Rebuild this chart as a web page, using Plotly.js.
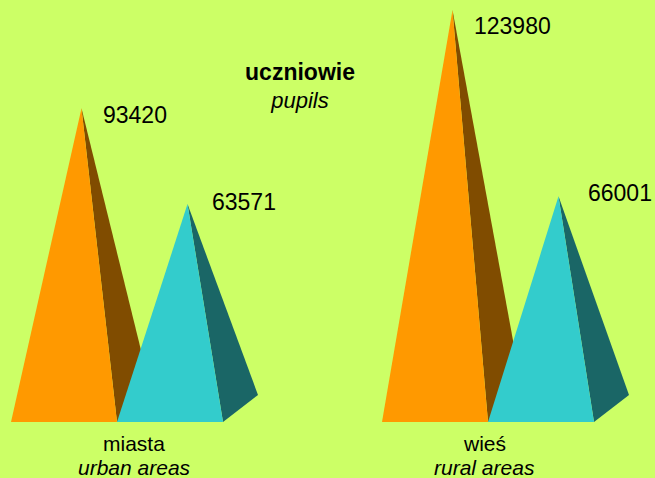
<!DOCTYPE html>
<html>
<head>
<meta charset="utf-8">
<script src="https://cdn.plot.ly/plotly-3.0.1.min.js"></script>
<style>html,body{margin:0;padding:0;background:#ccff66;}#chart{width:655px;height:478px;}</style>
</head>
<body>
<div id="chart"></div>
<script>
// ---- data ----
const categoriesPl = ['miasta', 'wieś'];
const categoriesEn = ['urban areas', 'rural areas'];
const seriesOrange = [93420, 123980];
const seriesCyan = [63571, 66001];
const titlePl = 'uczniowie';
const titleEn = 'pupils';

// ---- styling / geometry constants ----
const FONT = 'Liberation Sans, Arial, Helvetica, sans-serif';
const BG = '#ccff66';
const K = 0.003215;            // pixels per pupil
const PLOT_H = 422;            // plot height in px (base line)
const FACE_W = 106;            // front face width (x units = px)
const DX = 35;                 // depth offset x
const DY = 27 / K;             // depth offset y (in value units)
const groupStart = [11, 382];
const catLabelX = [134, 484];
const colors = [
  {front: '#ff9900', side: '#804c00'},
  {front: '#33cccc', side: '#1a6666'}
];
// label offsets in px relative to apex [xshift, yshift down]
const labelOff = [[[19, 7], [22, -2]], [[19, 16], [27, -3]]];

const traces = [];
const annotations = [];
const seriesList = [seriesOrange, seriesCyan];

for (let g = 0; g < categoriesPl.length; g++) {
  for (let s = 0; s < seriesList.length; s++) {
    const v = seriesList[s][g];
    const x0 = groupStart[g] + s * FACE_W;
    const ax = x0 + FACE_W / 2 + DX / 2;
    const ay = DY / 2 + v;
    traces.push({
      type: 'scatter', mode: 'lines', fill: 'toself',
      x: [x0 + FACE_W, x0 + FACE_W + DX, ax, x0 + FACE_W],
      y: [0, DY, ay, 0],
      fillcolor: colors[s].side, line: {width: 0, color: colors[s].side},
      hoverinfo: 'skip'
    });
    traces.push({
      type: 'scatter', mode: 'lines', fill: 'toself',
      x: [x0, x0 + FACE_W, ax, x0],
      y: [0, 0, ay, 0],
      fillcolor: colors[s].front, line: {width: 0, color: colors[s].front},
      hoverinfo: 'skip'
    });
    annotations.push({
      xref: 'x', yref: 'y', x: ax, y: ay,
      text: String(v), showarrow: false,
      xanchor: 'left', yanchor: 'middle',
      xshift: labelOff[g][s][0], yshift: -labelOff[g][s][1],
      font: {family: FONT, size: 23, color: '#000000'}
    });
  }
  annotations.push({
    xref: 'x', yref: 'y', x: catLabelX[g], y: 0,
    text: categoriesPl[g], showarrow: false,
    xanchor: 'center', yanchor: 'middle', yshift: -21,
    font: {family: FONT, size: 21, color: '#000000'}
  });
  annotations.push({
    xref: 'x', yref: 'y', x: catLabelX[g], y: 0,
    text: '<i>' + categoriesEn[g] + '</i>', showarrow: false,
    xanchor: 'center', yanchor: 'middle', yshift: -45,
    font: {family: FONT, size: 21, color: '#000000'}
  });
}

const layout = {
  width: 655, height: 478,
  paper_bgcolor: BG, plot_bgcolor: BG,
  margin: {l: 0, r: 0, t: 0, b: 478 - PLOT_H, pad: 0},
  showlegend: false,
  title: {
    text: '<b><span style="font-size:23px">' + titlePl + '</span></b><br><i>' + titleEn + '</i>',
    font: {family: FONT, size: 22, color: '#000000'},
    x: 300 / 655, xanchor: 'center', xref: 'paper',
    y: 1 - 79.5 / 478, yanchor: 'middle', yref: 'container'
  },
  xaxis: {range: [0, 655], visible: false, fixedrange: true},
  yaxis: {range: [0, PLOT_H / K], visible: false, fixedrange: true},
  annotations: annotations
};

Plotly.newPlot('chart', traces, layout, {displayModeBar: false, staticPlot: true});
</script>
</body>
</html>
